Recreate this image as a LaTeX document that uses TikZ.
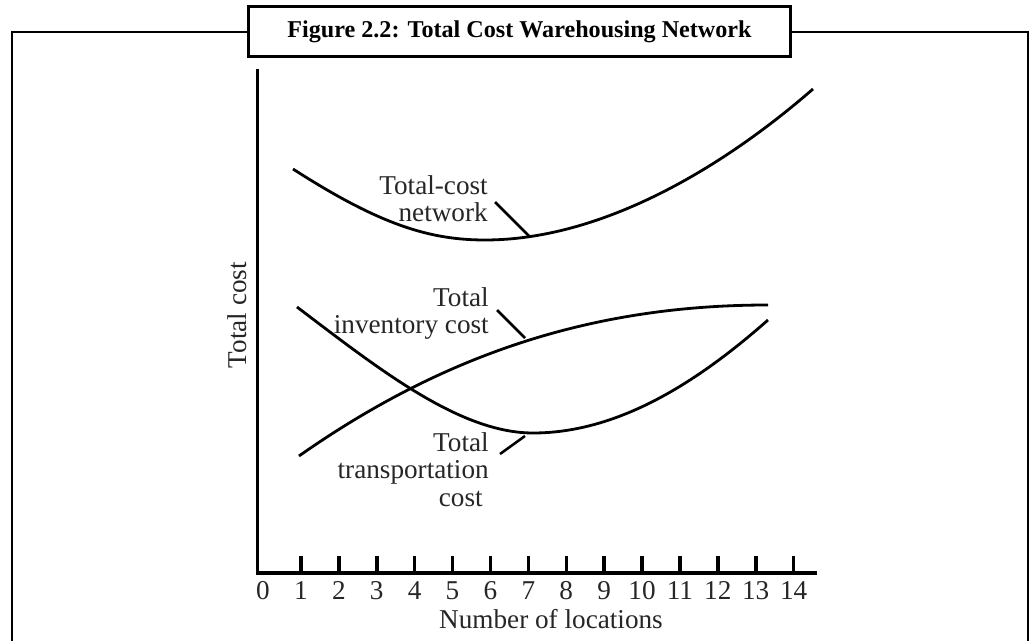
\documentclass[tikz,border=0pt]{standalone}
\usepackage{fontspec}
\setmainfont{Liberation Serif}
\newcommand{\lblfont}{\fontsize{20.4}{20.6}\selectfont\lineskiplimit=-30pt\relax}
\begin{document}
\begin{tikzpicture}[x=0.75pt,y=-0.75pt,
  frame/.style={line width=2.1pt},
  axis/.style={line width=2.4pt},
  curve/.style={line width=2.1pt},
  leader/.style={line width=1.9pt},
  tickmark/.style={line width=2.6pt},
  lbl/.style={font=\lblfont, inner sep=0pt, text=black!85},
  multi/.style={lbl, align=right, anchor=north east},
  titlebox/.style={draw, line width=2.1pt, fill=white, minimum width=407pt, minimum height=38pt, inner sep=0pt, font=\bfseries\fontsize{18.1}{21}\selectfont}]
\useasboundingbox (0,0) rectangle (1032,641);
% outer frame
\draw[frame] (12,641) -- (12,32) -- (1028,32) -- (1028,641);
\node[titlebox] (title) at (519.5,31.5) {Figure 2.2: Total Cost Warehousing Network};
% axes
\coordinate (ytop) at (257.5,69);
\coordinate (orig) at (257.5,573);
\coordinate (xend) at (817,573);
\draw[axis] (ytop) -- (orig) -- (xend);
\foreach \i in {1,...,14} {
  \draw[tickmark] ({301+(\i-1)*37.9},556) -- ({301+(\i-1)*37.9},573);
}
\foreach \i in {0,...,14} {
  \node[lbl, anchor=base] (t\i) at ({263+\i*37.9},599.5) {\i};
}
\node[lbl, anchor=base] (xlab) at (551,628.5) {Number of locations};
\node[lbl, rotate=90] (ylab) at (237,315) {Total cost};
% curves
\draw[curve] (293,169) .. controls (380,225) and (430,240) .. (485,240)
                       .. controls (600,240) and (720,170) .. (813,89);
\draw[curve] (299,456) .. controls (450,350) and (600,305) .. (768,305);
\draw[curve] (297,307) .. controls (380,370) and (460,433) .. (533,433)
                       .. controls (620,433) and (700,380) .. (768,320);
% labels
\node[multi] (tc) at (488,175) {Total-cost\\network};
\node[multi] (ic) at (489,287) {Total\\inventory cost};
\node[multi] (tr) at (489,432) {Total\\transportation\\cost\hspace*{4.5pt}};
% leaders
\coordinate (a1) at (495,202); \coordinate (b1) at (530,237);
\coordinate (a2) at (497,310); \coordinate (b2) at (525,338);
\coordinate (a3) at (500,454); \coordinate (b3) at (525,436);
\draw[leader] (a1) -- (b1);
\draw[leader] (a2) -- (b2);
\draw[leader] (a3) -- (b3);
\end{tikzpicture}
\end{document}
